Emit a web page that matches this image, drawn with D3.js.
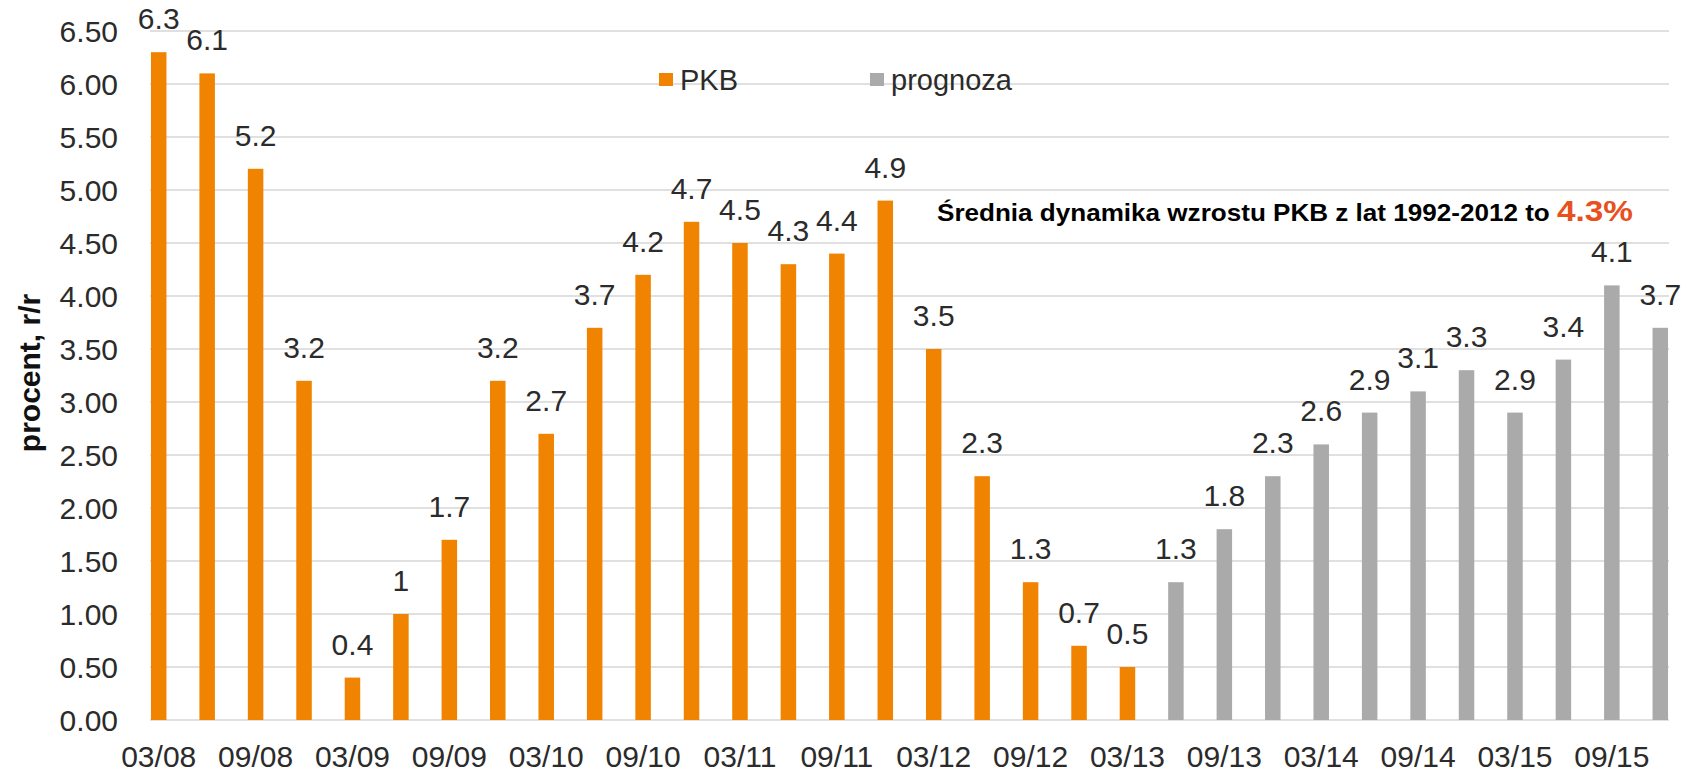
<!DOCTYPE html>
<html>
<head>
<meta charset="utf-8">
<script src="https://cdnjs.cloudflare.com/ajax/libs/d3/7.8.5/d3.min.js"></script>
<style>
  html, body { margin: 0; padding: 0; background: #fff; }
  svg { display: block; }
  text { font-family: "Liberation Sans", Arial, sans-serif; }
</style>
</head>
<body>
<svg id="chart" width="1694" height="772"></svg>
<script>
// ---- data ----
const categories = ["03/08","06/08","09/08","12/08","03/09","06/09","09/09","12/09",
  "03/10","06/10","09/10","12/10","03/11","06/11","09/11","12/11",
  "03/12","06/12","09/12","12/12","03/13","06/13","09/13","12/13",
  "03/14","06/14","09/14","12/14","03/15","06/15","09/15","12/15"];
const pkbValues = [6.3, 6.1, 5.2, 3.2, 0.4, 1, 1.7, 3.2, 2.7, 3.7, 4.2, 4.7, 4.5, 4.3, 4.4, 4.9,
  3.5, 2.3, 1.3, 0.7, 0.5];
const prognozaValues = [1.3, 1.8, 2.3, 2.6, 2.9, 3.1, 3.3, 2.9, 3.4, 4.1, 3.7];
const yTicks = [0, 0.5, 1, 1.5, 2, 2.5, 3, 3.5, 4, 4.5, 5, 5.5, 6, 6.5];
const xTickLabels = ["03/08","09/08","03/09","09/09","03/10","09/10","03/11","09/11",
  "03/12","09/12","03/13","09/13","03/14","09/14","03/15","09/15"];
const seriesNames = ["PKB", "prognoza"];
const yTitle = "procent, r/r";
const noteText = "Średnia dynamika wzrostu PKB z lat 1992-2012 to ";
const noteValue = "4.3%";

// ---- build table ----
const pkbData = pkbValues.map((v, i) => ({ cat: categories[i], v }));
const progData = prognozaValues.map((v, i) => ({ cat: categories[pkbValues.length + i], v }));

const colors = { PKB: "#F08300", prognoza: "#AAAAAA" };

const svg = d3.select("#chart");
const plotLeft = 150, plotRight = 1669, plotTop = 31, plotBottom = 720;

const x = d3.scaleBand().domain(categories).range([plotLeft, plotRight])
  .paddingInner(0.68).paddingOuter(0.02);
const y = d3.scaleLinear().domain([0, 6.5]).range([plotBottom, plotTop]);

// gridlines
svg.append("g").selectAll("line").data(yTicks).join("line")
  .attr("x1", plotLeft).attr("x2", plotRight)
  .attr("y1", d => y(d)).attr("y2", d => y(d))
  .attr("stroke", "#d6d6d6").attr("stroke-width", 1.5);

// y axis labels
const yAxis = d3.axisLeft(y).tickValues(yTicks).tickFormat(d3.format(".2f")).tickSize(0).tickPadding(0);
const gy = svg.append("g").attr("transform", `translate(118,0)`).call(yAxis);
gy.select(".domain").remove();
gy.selectAll("text").attr("font-size", 30).attr("fill", "#2b2b2b")
  .attr("font-family", "'Liberation Sans', Arial, sans-serif").attr("dy", "0.35em");

// x axis labels
const xAxis = d3.axisBottom(x).tickValues(xTickLabels).tickSize(0).tickPadding(0);
const gx = svg.append("g").attr("transform", `translate(0,${plotBottom})`).call(xAxis);
gx.select(".domain").remove();
gx.selectAll("text").attr("font-size", 30).attr("fill", "#2b2b2b")
  .attr("font-family", "'Liberation Sans', Arial, sans-serif")
  .attr("dy", null).attr("y", 47);

// bars
function drawSeries(data, color) {
  svg.append("g").selectAll("rect").data(data).join("rect")
    .attr("x", d => x(d.cat)).attr("width", x.bandwidth())
    .attr("y", d => y(d.v)).attr("height", d => y(0) - y(d.v))
    .attr("fill", color);
  svg.append("g").selectAll("text").data(data).join("text")
    .attr("x", d => x(d.cat) + x.bandwidth() / 2)
    .attr("y", d => y(d.v) - 23)
    .attr("text-anchor", "middle")
    .attr("font-size", 30).attr("fill", "#2b2b2b")
    .text(d => String(d.v));
}
drawSeries(pkbData, colors.PKB);
drawSeries(progData, colors.prognoza);

// legend
const legendPos = [{ name: seriesNames[0], x: 659 }, { name: seriesNames[1], x: 870 }];
const lg = svg.append("g");
legendPos.forEach(l => {
  lg.append("rect").attr("x", l.x).attr("y", 73).attr("width", 14).attr("height", 13)
    .attr("fill", colors[l.name]);
  lg.append("text").attr("x", l.x + 21).attr("y", 90).attr("font-size", 29)
    .attr("fill", "#2b2b2b").text(l.name);
});

// y title
svg.append("text")
  .attr("transform", "translate(40,373) rotate(-90)")
  .attr("text-anchor", "middle").attr("font-size", 30).attr("font-weight", "bold")
  .attr("fill", "#111").text(yTitle);

// note
const note = svg.append("text").attr("x", 937).attr("y", 221)
  .attr("font-weight", "bold");
note.append("tspan").attr("font-size", 24).attr("fill", "#000")
  .attr("textLength", 620).attr("lengthAdjust", "spacingAndGlyphs").text(noteText);
note.append("tspan").attr("font-size", 30).attr("fill", "#E8501E")
  .attr("textLength", 76).attr("lengthAdjust", "spacingAndGlyphs")
  .text(noteValue);
</script>
</body>
</html>
